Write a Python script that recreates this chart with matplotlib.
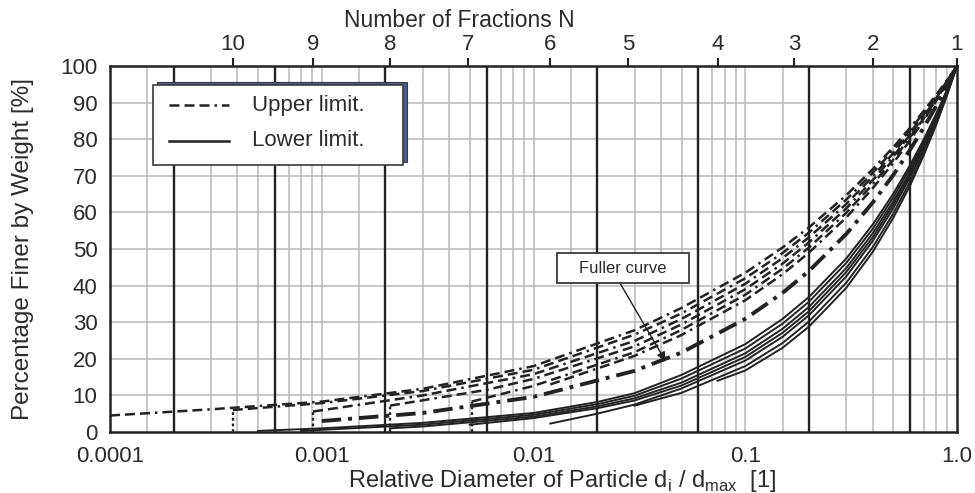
import matplotlib
matplotlib.use("Agg")
import matplotlib.pyplot as plt
from matplotlib.patches import Rectangle
from matplotlib.ticker import NullLocator

plt.rcParams["font.family"] = ["Liberation Sans", "DejaVu Sans"]
INK = "#222222"
TXT = "#2b2b2b"

# number of fractions N (top axis) and where they sit on d/dmax
n_fractions = [10, 9, 8, 7, 6, 5, 4, 3, 2, 1]
n_positions = [0.00038, 0.00091, 0.0021, 0.0049, 0.012, 0.028, 0.074, 0.17, 0.40, 1.0]

# heavy vertical lines
boundaries = [0.0002, 0.0006, 0.002, 0.006, 0.02, 0.06, 0.2, 0.6]

x_ticks = [0.0001, 0.001, 0.01, 0.1, 1.0]
x_labels = ["0.0001", "0.001", "0.01", "0.1", "1.0"]

# upper limit curves (dashed)
u1_d = [0.0001, 0.0003, 0.001, 0.003, 0.01, 0.03, 0.05, 0.1, 0.15, 0.2, 0.3, 0.4, 0.5, 0.6, 0.7, 0.8, 0.9, 1.0]
u1_p = [4.5, 6.2, 8.3, 11.8, 18.0, 27.8, 33.9, 43.5, 50.4, 55.9, 64.7, 71.8, 77.8, 83.1, 87.9, 92.2, 96.3, 100]
u2_d = [0.00038, 0.001, 0.003, 0.01, 0.03, 0.05, 0.1, 0.15, 0.2, 0.3, 0.4, 0.5, 0.6, 0.7, 0.8, 0.9, 1.0]
u2_p = [6.0, 7.9, 11.2, 17.0, 26.6, 32.4, 42.0, 48.9, 54.5, 63.5, 70.8, 77.0, 82.5, 87.4, 91.9, 96.1, 100]
u3_d = [0.00091, 0.003, 0.01, 0.03, 0.05, 0.1, 0.15, 0.2, 0.3, 0.4, 0.5, 0.6, 0.7, 0.8, 0.9, 1.0]
u3_p = [5.6, 10.0, 15.8, 24.9, 30.9, 40.5, 47.5, 53.2, 62.3, 69.8, 76.2, 81.8, 86.9, 91.6, 96.0, 100]
u4_d = [0.0021, 0.006, 0.01, 0.03, 0.05, 0.1, 0.15, 0.2, 0.3, 0.4, 0.5, 0.6, 0.7, 0.8, 0.9, 1.0]
u4_p = [7.2, 11.5, 14.5, 23.4, 29.4, 39.0, 46.0, 51.8, 61.1, 68.8, 75.3, 81.2, 86.4, 91.3, 95.8, 100]
u5_d = [0.0051, 0.01, 0.03, 0.05, 0.1, 0.15, 0.2, 0.3, 0.4, 0.5, 0.6, 0.7, 0.8, 0.9, 1.0]
u5_p = [8.3, 12.6, 21.8, 27.9, 37.5, 44.6, 50.4, 59.9, 67.7, 74.4, 80.5, 85.9, 90.9, 95.6, 100]
u6_d = [0.012, 0.03, 0.05, 0.1, 0.15, 0.2, 0.3, 0.4, 0.5, 0.6, 0.7, 0.8, 0.9, 1.0]
u6_p = [13.0, 20.8, 26.5, 36.0, 43.1, 49.0, 58.6, 66.6, 73.5, 79.7, 85.4, 90.6, 95.4, 100]

# Fuller curve
fuller_d = [0.001, 0.003, 0.01, 0.03, 0.05, 0.1, 0.15, 0.2, 0.3, 0.4, 0.5, 0.6, 0.7, 0.8, 0.9, 1.0]
fuller_p = [3.0, 5.2, 9.6, 16.7, 21.7, 30.9, 38.0, 44.0, 54.1, 62.7, 70.2, 77.1, 83.4, 89.2, 94.8, 100]

# lower limit curves (solid)
l1_d = [0.0005, 0.001, 0.003, 0.01, 0.02, 0.03, 0.05, 0.1, 0.15, 0.2, 0.3, 0.4, 0.5, 0.6, 0.7, 0.8, 0.9, 1.0]
l1_p = [0.3, 1.0, 2.5, 5.2, 8.2, 10.6, 15.6, 24.0, 30.9, 36.9, 47.4, 56.7, 65.1, 72.9, 80.2, 87.1, 93.7, 100]
l2_d = [0.0008, 0.003, 0.01, 0.02, 0.03, 0.05, 0.1, 0.15, 0.2, 0.3, 0.4, 0.5, 0.6, 0.7, 0.8, 0.9, 1.0]
l2_p = [0.3, 2.0, 4.7, 7.6, 9.9, 14.6, 22.8, 29.6, 35.6, 46.2, 55.5, 64.1, 72.1, 79.5, 86.7, 93.5, 100]
l3_d = [0.0021, 0.003, 0.01, 0.02, 0.03, 0.05, 0.1, 0.15, 0.2, 0.3, 0.4, 0.5, 0.6, 0.7, 0.8, 0.9, 1.0]
l3_p = [1.0, 1.5, 4.2, 7.0, 9.2, 13.5, 21.5, 28.2, 34.2, 44.8, 54.3, 63.0, 71.1, 78.8, 86.2, 93.2, 100]
l4_d = [0.005, 0.01, 0.02, 0.03, 0.05, 0.1, 0.15, 0.2, 0.3, 0.4, 0.5, 0.6, 0.7, 0.8, 0.9, 1.0]
l4_p = [2.0, 3.8, 6.5, 8.6, 12.7, 20.5, 27.1, 33.0, 43.7, 53.2, 62.1, 70.4, 78.2, 85.8, 93.0, 100]
l5_d = [0.012, 0.02, 0.03, 0.05, 0.1, 0.15, 0.2, 0.3, 0.4, 0.5, 0.6, 0.7, 0.8, 0.9, 1.0]
l5_p = [2.3, 5.0, 7.5, 11.9, 19.5, 26.0, 31.9, 42.5, 52.2, 61.1, 69.6, 77.6, 85.4, 92.8, 100]
l6_d = [0.03, 0.05, 0.1, 0.15, 0.2, 0.3, 0.4, 0.5, 0.6, 0.7, 0.8, 0.9, 1.0]
l6_p = [7.2, 10.7, 18.0, 24.3, 30.2, 40.8, 50.5, 59.7, 68.4, 76.7, 84.7, 92.5, 100]
l7_d = [0.074, 0.1, 0.15, 0.2, 0.3, 0.4, 0.5, 0.6, 0.7, 0.8, 0.9, 1.0]
l7_p = [14.0, 16.8, 23.0, 28.8, 39.4, 49.2, 58.5, 67.3, 75.9, 84.1, 92.2, 100]

upper = [(u1_d, u1_p), (u2_d, u2_p), (u3_d, u3_p), (u4_d, u4_p), (u5_d, u5_p), (u6_d, u6_p)]
lower = [(l1_d, l1_p), (l2_d, l2_p), (l3_d, l3_p), (l4_d, l4_p), (l5_d, l5_p), (l6_d, l6_p), (l7_d, l7_p)]
# curves whose start is marked with a dotted drop to zero
dropped = [(u2_d, u2_p), (u3_d, u3_p), (u4_d, u4_p), (u5_d, u5_p)]

upper_style = (0, (4, 2, 4, 2, 4, 2, 1, 2))
fuller_style = (0, (5, 1.8, 1, 1.8))

fig = plt.figure(figsize=(9.75, 4.93), dpi=100)
ax = fig.add_axes([110 / 975, 61 / 493, 847 / 975, 366 / 493])
ax.set_xscale("log")
ax.set_xlim(0.0001, 1.0)
ax.set_ylim(0, 100)

# grid
for dec in [0.0001, 0.001, 0.01, 0.1]:
    for m in [1, 1.5, 3, 4, 5, 7, 8, 9]:
        if dec * m > 0.0001:
            ax.axvline(dec * m, color="#b8b8b8", lw=1.1, zorder=1)
for yy in range(10, 100, 10):
    ax.axhline(yy, color="#b8b8b8", lw=1.1, zorder=1)
for b in boundaries:
    ax.axvline(b, color=INK, lw=1.7, zorder=2)

for d, p in upper:
    ax.plot(d, p, color=INK, lw=1.8, linestyle=upper_style, zorder=3)
for d, p in dropped:
    ax.vlines(d[0], 0, p[0], color=INK, lw=1.7, linestyles=[(0, (1.2, 1.2))], zorder=3)
ax.plot(fuller_d, fuller_p, color=INK, lw=2.8, linestyle=fuller_style, zorder=3)
for d, p in lower:
    ax.plot(d, p, color=INK, lw=1.4, zorder=3)

# axes cosmetics
for s in ax.spines.values():
    s.set_linewidth(1.8)
    s.set_color(INK)
    s.set_zorder(6)
ax.set_xticks(x_ticks, labels=x_labels)
ax.xaxis.set_minor_locator(NullLocator())
ax.set_yticks(range(0, 101, 10))
ax.tick_params(length=0, labelsize=16, labelcolor=TXT)
ax.tick_params(axis="x", pad=10)
ax.tick_params(axis="y", pad=9)
ax.set_xlabel(r"Relative Diameter of Particle d$_\mathregular{i}$ / d$_\mathregular{max}$  [1]",
              fontsize=17, color=TXT, labelpad=1)
ax.xaxis.label.set_x(0.534)
ax.set_ylabel("Percentage Finer by Weight [%]", fontsize=17.5, color=TXT, labelpad=19)

top = ax.secondary_xaxis("top")
top.set_xticks(n_positions, labels=[str(n) for n in n_fractions])
top.xaxis.set_minor_locator(NullLocator())
top.tick_params(length=6, width=1.5, color=INK, labelsize=16, labelcolor=TXT, pad=2)
top.spines["top"].set_visible(False)
top.set_xlabel("Number of Fractions N", fontsize=16.5, color=TXT, labelpad=5)
top.xaxis.label.set_x(0.413)

# legend box with offset shadow
ax.add_patch(Rectangle((0.0555, 0.7377), 0.2952, 0.2186, transform=ax.transAxes,
                       facecolor="#4e5c84", edgecolor="#3a3a3a", lw=0.8, zorder=7))
ax.add_patch(Rectangle((0.0508, 0.7295), 0.2952, 0.2186, transform=ax.transAxes,
                       facecolor="white", edgecolor="#3a3a3a", lw=1.2, zorder=8))
ax.plot([0.0697, 0.1405], [0.893, 0.893], transform=ax.transAxes, color=INK, lw=1.8,
        linestyle=upper_style, zorder=9)
ax.plot([0.0697, 0.1405], [0.796, 0.796], transform=ax.transAxes, color=INK, lw=1.8, zorder=9)
ax.text(0.1677, 0.893, "Upper limit.", transform=ax.transAxes, fontsize=16, color=TXT,
        va="center", zorder=9)
ax.text(0.1677, 0.796, "Lower limit.", transform=ax.transAxes, fontsize=16, color=TXT,
        va="center", zorder=9)

# Fuller curve callout
ax.add_patch(Rectangle((0.5277, 0.4071), 0.1558, 0.082, transform=ax.transAxes,
                       facecolor="white", edgecolor="#3a3a3a", lw=1.3, zorder=8))
ax.text(0.6056, 0.448, "Fuller curve", transform=ax.transAxes, fontsize=12, color=TXT,
        ha="center", va="center", zorder=9)
ax.annotate("", xy=(0.042, 19.4), xycoords="data", xytext=(0.602, 0.4071),
            textcoords="axes fraction",
            arrowprops=dict(arrowstyle="-|>", color=INK, lw=1.0, shrinkA=0, shrinkB=0,
                            mutation_scale=13), zorder=9)

fig.savefig("out.png", dpi=100)
